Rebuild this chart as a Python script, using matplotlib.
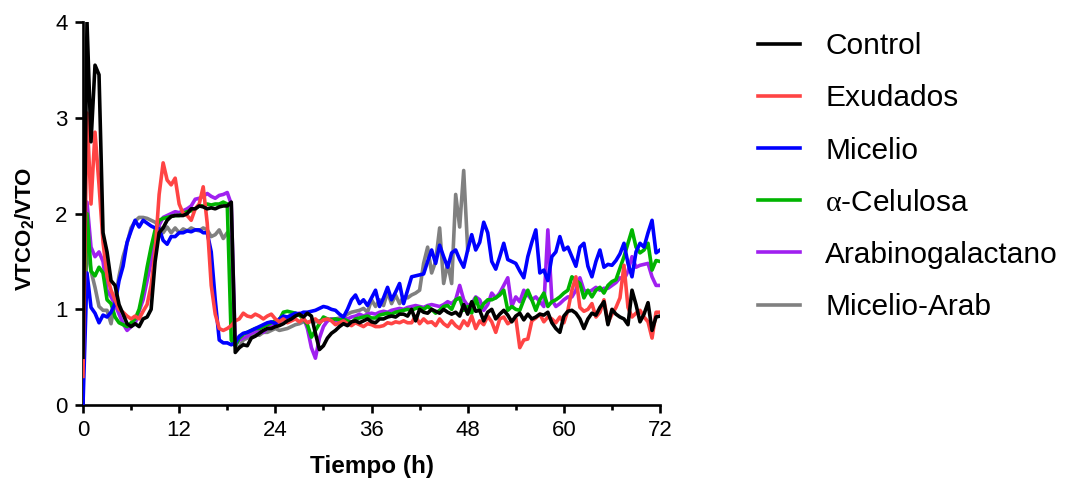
import numpy as np
import matplotlib.pyplot as plt
from matplotlib.ticker import MultipleLocator

plt.rcParams['font.family'] = ['Liberation Sans', 'DejaVu Sans']
plt.rcParams['mathtext.fontset'] = 'custom'
plt.rcParams['mathtext.rm'] = 'Liberation Serif'
plt.rcParams['mathtext.bf'] = 'Liberation Sans:bold'

# sampling every 0.5 h
t = np.arange(0, 72.01, 0.5)
t_arab = t[t <= 48.0]

control = [
    0.5, 4.0, 2.75, 3.55, 3.45, 1.8, 1.6, 1.3, 1.25, 1.05, 0.95, 0.85, 0.82, 0.85, 0.82, 0.9,
    0.92, 1.0, 1.5, 1.8, 1.85, 1.93, 1.97, 1.98, 1.98, 1.98, 2.0, 2.05, 2.05, 2.08, 2.07, 2.05,
    2.06, 2.05, 2.07, 2.08, 2.08, 2.12, 0.55, 0.6, 0.63, 0.62, 0.7, 0.72, 0.75, 0.78, 0.8, 0.8,
    0.82, 0.83, 0.85, 0.88, 0.9, 0.93, 0.95, 0.92, 0.96, 0.93, 0.75, 0.58, 0.62, 0.7, 0.75, 0.78,
    0.82, 0.85, 0.83, 0.87, 0.88, 0.86, 0.88, 0.9, 0.87, 0.86, 0.9, 0.9, 0.92, 0.93, 0.92, 0.95,
    0.95, 0.93, 1.0, 0.88, 1.0, 0.97, 0.96, 1.0, 0.98, 0.96, 1.0, 0.97, 0.95, 0.97, 0.93, 1.05,
    0.95, 1.08, 0.98, 0.99, 0.88, 0.97, 1.0, 0.9, 0.95, 0.99, 0.94, 0.87, 0.93, 0.96, 0.89, 0.95,
    0.9, 0.92, 0.95, 0.94, 0.97, 0.86, 0.8, 0.76, 0.93, 0.98, 0.99, 0.96, 0.9, 0.8, 0.9, 0.96,
    0.94, 1.02, 1.08, 0.84, 1.0, 0.95, 0.92, 0.9, 0.84, 1.2, 1.05, 0.87, 0.95, 1.07, 0.78, 0.92,
    0.93,
]
exudados = [
    0.3, 3.05, 2.1, 2.85, 2.3, 1.7, 1.35, 1.2, 1.1, 1.0, 0.97, 0.93, 0.9, 0.93, 0.9, 0.98,
    1.05, 1.25, 1.6, 2.2, 2.53, 2.35, 2.3, 2.37, 2.1, 2.0, 1.98, 1.93, 2.05, 2.1, 2.28, 1.9,
    1.25, 0.95, 0.8, 0.78, 0.8, 0.83, 0.88, 0.9, 0.96, 0.93, 0.92, 0.95, 0.93, 0.9, 0.93, 0.95,
    0.9, 0.87, 0.9, 0.86, 0.88, 0.9, 0.87, 0.9, 0.86, 0.88, 0.9, 0.86, 0.89, 0.9, 0.88, 0.84,
    0.86, 0.88, 0.85, 0.83, 0.86, 0.84, 0.82, 0.85, 0.84, 0.82, 0.82, 0.83, 0.86, 0.85, 0.87, 0.86,
    0.88, 0.86, 0.86, 0.93, 0.85, 0.9, 0.86, 0.87, 0.83, 0.9, 0.85, 0.82, 0.88, 0.83, 0.8, 0.88,
    0.83, 0.93, 0.8, 0.88, 0.84, 0.93, 0.87, 0.76, 0.9, 0.92, 0.85, 0.88, 0.91, 0.6, 0.68, 0.69,
    0.88, 0.91, 0.95, 0.87, 0.92, 0.9, 0.86, 0.92, 0.86, 0.99, 1.2, 1.34, 1.02, 0.98, 1.0, 1.06,
    0.92, 0.97, 1.1, 0.86, 0.95, 1.02, 1.12, 1.46, 1.02, 0.92, 0.96, 0.99, 0.92, 0.87, 0.7, 0.97,
    0.97,
]
micelio = [
    0.0, 1.38, 1.02, 0.96, 0.86, 0.94, 0.92, 0.97, 1.06, 1.3, 1.45, 1.7, 1.82, 1.93, 1.86, 1.93,
    1.9, 1.87, 1.85, 1.84, 1.72, 1.68, 1.76, 1.76, 1.8, 1.8, 1.82, 1.81, 1.83, 1.83, 1.8, 1.8,
    1.6, 1.1, 0.68, 0.65, 0.65, 0.63, 0.65, 0.72, 0.75, 0.76, 0.78, 0.8, 0.82, 0.84, 0.86, 0.87,
    0.85, 0.9, 0.93, 0.92, 0.94, 0.96, 0.95, 0.97, 0.97, 0.98, 0.99, 1.01, 1.03, 1.02, 1.0, 0.99,
    0.95, 0.92, 1.0, 1.1, 1.15, 1.06, 1.1, 1.04, 1.12, 1.2, 1.03, 1.12, 1.23, 1.1, 1.18, 1.27,
    1.06, 1.2, 1.34, 1.35, 1.36, 1.37, 1.5, 1.62, 1.48, 1.67, 1.55, 1.44, 1.59, 1.62, 1.52, 1.44,
    1.62, 1.78, 1.62, 1.7, 1.91, 1.8, 1.5, 1.42, 1.55, 1.69, 1.52, 1.5, 1.48, 1.4, 1.33, 1.55,
    1.7, 1.83, 1.38, 1.41, 1.3, 1.55, 1.6, 1.76, 1.62, 1.65, 1.55, 1.45, 1.65, 1.69, 1.45, 1.34,
    1.5, 1.62, 1.44, 1.47, 1.46, 1.51, 1.58, 1.69, 1.48, 1.34, 1.6, 1.69, 1.65, 1.8, 1.93, 1.59,
    1.62,
]
celulosa = [
    0.3, 2.0, 1.4, 1.35, 1.44, 1.38, 1.1, 1.06, 0.92, 0.86, 0.84, 0.82, 0.86, 0.9, 1.0, 1.2,
    1.44, 1.65, 1.83, 1.93, 1.95, 1.96, 1.97, 1.98, 1.98, 2.0, 2.02, 2.03, 2.05, 2.08, 2.08, 2.1,
    2.09, 2.1, 2.1, 2.12, 2.1, 0.68, 0.62, 0.7, 0.74, 0.76, 0.78, 0.8, 0.8, 0.82, 0.84, 0.86,
    0.88, 0.89, 0.97, 0.98, 0.97, 0.96, 0.94, 0.9, 0.84, 0.71, 0.78, 0.85, 0.92, 0.9, 0.89, 0.9,
    0.89, 0.9, 0.88, 0.86, 0.9, 0.91, 0.92, 0.93, 0.91, 0.91, 0.94, 0.95, 0.96, 0.95, 0.97, 0.98,
    0.99, 1.0, 0.99, 1.01, 1.02, 1.0, 1.03, 1.0, 0.96, 0.99, 1.03, 1.04, 1.0, 1.1, 1.12, 0.99,
    1.03, 0.96, 1.12, 0.99, 1.06, 1.1, 1.1, 1.12, 1.15, 1.2, 0.99, 1.03, 1.0, 0.99, 1.1, 1.2,
    1.1, 0.99, 1.1, 1.17, 1.03, 1.08, 1.1, 1.13, 1.17, 1.2, 1.34, 1.3, 1.27, 1.12, 1.2, 1.13,
    1.2, 1.23, 1.17, 1.25, 1.29, 1.31, 1.43, 1.55, 1.69, 1.83, 1.65, 1.59, 1.62, 1.69, 1.41, 1.51,
    1.5,
]
arabino = [
    0.3, 2.12, 1.65, 1.55, 1.6, 1.5, 1.2, 1.13, 1.05, 0.95, 0.85, 0.78, 0.82, 0.85, 0.98, 1.1,
    1.3, 1.5, 1.75, 1.88, 1.96, 1.98, 2.0, 2.02, 2.01, 2.03, 2.05, 2.08, 2.15, 2.16, 2.18, 2.21,
    2.18, 2.16, 2.19, 2.2, 2.22, 2.1, 0.62, 0.68, 0.7, 0.72, 0.75, 0.77, 0.78, 0.76, 0.8, 0.83,
    0.85, 0.87, 0.9, 0.92, 0.93, 0.95, 0.96, 0.92, 0.8, 0.6, 0.49, 0.7, 0.82, 0.88, 0.9, 0.88,
    0.9, 0.92, 0.9, 0.92, 0.93, 0.95, 0.93, 0.95, 0.96, 0.95, 0.97, 0.98, 0.97, 0.99, 1.0, 1.01,
    1.0, 1.02, 1.03, 1.04, 1.03, 1.02, 1.04, 1.05, 1.04, 1.03, 1.05, 1.08, 1.06, 1.1, 1.25, 1.1,
    1.04, 1.06, 1.13, 1.1, 0.99, 1.05, 1.17, 1.12, 1.17, 1.25, 1.33, 1.03, 1.13, 1.08, 1.2, 1.15,
    1.1, 1.13, 1.08, 1.03, 1.83, 1.1, 1.03, 1.06, 1.1, 1.13, 1.13, 1.2, 1.33, 1.2, 1.18, 1.2,
    1.23, 1.2, 1.22, 1.22, 1.25, 1.28, 1.33, 1.31, 1.4, 1.55, 1.44, 1.46, 1.47, 1.48, 1.34, 1.25,
    1.25,
]
# this treatment was only followed up to 48 h
micelio_arab = [
    0.3, 1.7, 1.4, 1.23, 1.03, 0.99, 0.99, 0.85, 1.1, 1.35, 1.55, 1.69, 1.85, 1.92, 1.96, 1.96,
    1.95, 1.93, 1.91, 1.87, 1.8, 1.86, 1.8, 1.85, 1.8, 1.84, 1.82, 1.85, 1.83, 1.82, 1.85, 1.83,
    1.76, 1.78, 1.83, 1.74, 1.8, 1.72, 0.62, 0.6, 0.68, 0.7, 0.71, 0.74, 0.73, 0.76, 0.76, 0.78,
    0.8, 0.78, 0.79, 0.8, 0.82, 0.84, 0.85, 0.87, 0.86, 0.88, 0.87, 0.88, 0.89, 0.88, 0.9, 0.9,
    0.91, 0.92, 0.95, 0.97, 0.98, 0.99, 1.01, 0.97, 1.1, 1.03, 1.1, 1.04, 1.18, 1.06, 1.15, 1.06,
    1.13, 1.12, 1.15, 1.17, 1.2, 1.48, 1.65, 1.38, 1.5, 1.85, 1.27, 1.48, 1.27, 2.2, 1.86, 2.45,
    1.62,
]

labels = ['Control', 'Exudados', 'Micelio', r'$\mathrm{\alpha}$-Celulosa', 'Arabinogalactano', 'Micelio-Arab']
colors = ['#000000', '#FF4444', '#0000FF', '#00B400', '#A020F0', '#808080']

fig = plt.figure(figsize=(10.75, 4.8), dpi=100)
ax = fig.add_axes([0.0772, 0.156, 0.5368, 0.798])

series = [(t, control), (t, exudados), (t, micelio), (t, celulosa), (t, arabino), (t_arab, micelio_arab)]
lines = []
for (x, y), lab, c in zip(series, labels, colors):
    ln, = ax.plot(x, y, color=c, lw=2.6, label=lab)
    lines.append(ln)

# control on top, the rest stacked below in legend order
for i, ln in enumerate(lines):
    ln.set_zorder(10 - i)

ax.set_xlim(0, 72)
ax.set_ylim(0, 4)
ax.xaxis.set_major_locator(MultipleLocator(12))
ax.xaxis.set_minor_locator(MultipleLocator(6))
ax.yaxis.set_major_locator(MultipleLocator(1))

for side in ['top', 'right']:
    ax.spines[side].set_visible(False)
for side in ['left', 'bottom']:
    ax.spines[side].set_linewidth(1.9)

ax.tick_params(axis='both', which='major', length=6, width=1.9, direction='out',
               pad=5, labelsize=16)
ax.tick_params(axis='x', which='minor', length=3.5, width=1.9, direction='out')

ax.set_xlabel('Tiempo (h)', fontsize=17.5, fontweight='bold')
ax.xaxis.set_label_coords(0.5, -0.13)
ax.set_ylabel(r'VTCO$_\mathbf{2}$/VTO', fontsize=16, fontweight='bold')
ax.yaxis.set_label_coords(-0.08, 0.46)

fig.legend(handles=lines, labels=labels, loc='upper left', bbox_to_anchor=(0.705, 0.933),
           frameon=False, fontsize=21.5, handlelength=1.4, handletextpad=0.85,
           labelspacing=0.81, borderpad=0, borderaxespad=0)

fig.savefig('out.png', dpi=100)
